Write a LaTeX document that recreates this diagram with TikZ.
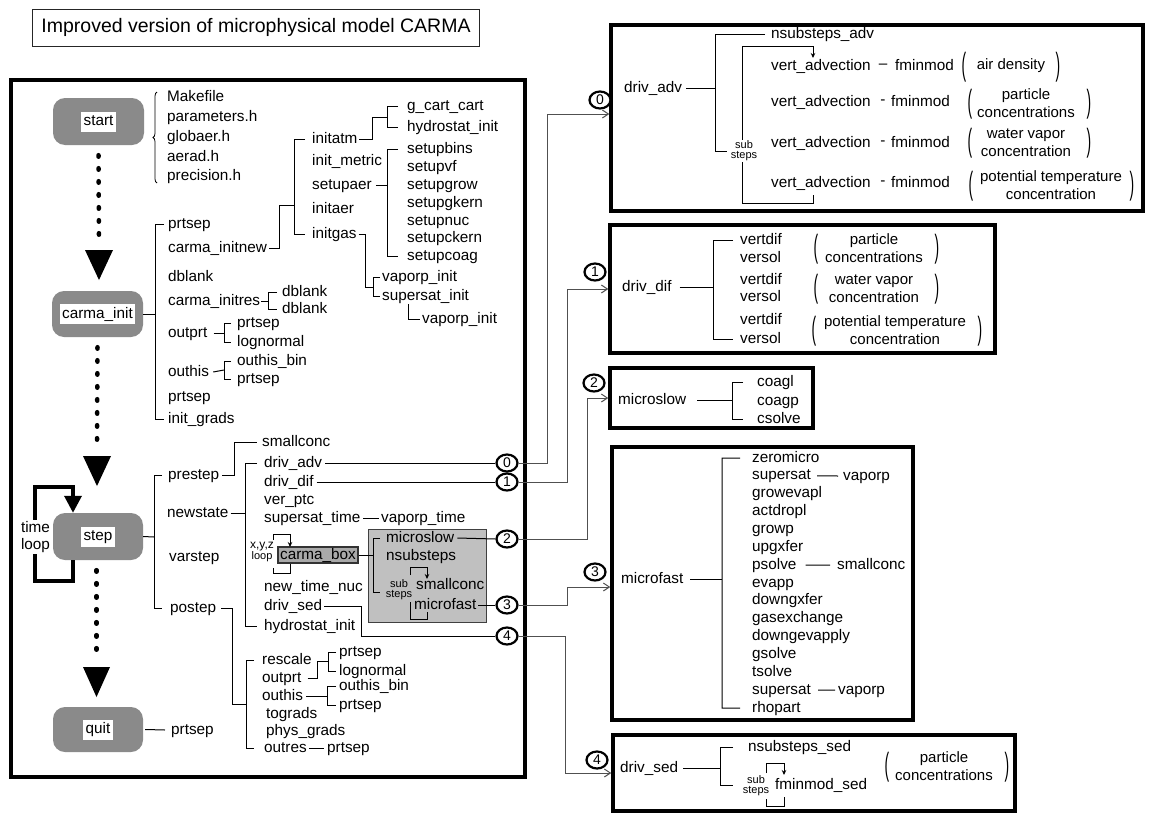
\documentclass[tikz,border=0pt]{standalone}
\usepackage{graphicx}
\usepackage{fontspec}
\setmainfont{Liberation Sans}
\usetikzlibrary{arrows.meta,shapes.geometric,decorations.pathreplacing}
\definecolor{boxgray}{HTML}{8A8A8A}
\definecolor{subgray}{HTML}{C0C0C0}
\definecolor{cboxgray}{HTML}{A9A9A9}
\definecolor{conngray}{HTML}{505050}
\newcommand\lblfont{\fontsize{15.3}{17}\selectfont}
\newcommand\grpfont{\fontsize{15}{18}\selectfont}
\newcommand\smlfont{\fontsize{11}{10}\selectfont}
\newcommand\myLP{\scalebox{0.9}[2.1]{(}}
\newcommand\myRP{\scalebox{0.9}[2.1]{)}}
\newcommand\mylbl[4]{\node[lbl] (#1) at (#2,#3) {#4};}
\tikzset{
 lbl/.style={inner sep=0pt, anchor=west, text height=11pt, text depth=3pt, font=\lblfont},
 grp/.style={inner sep=0pt, align=center, font=\grpfont},
 parn/.style={inner sep=0pt, font=\lblfont},
 sml/.style={inner sep=0.6pt, align=center, font=\smlfont},
 gbox/.style={fill=boxgray, rounded corners=12pt, minimum width=91pt, minimum height=46pt, inner sep=0pt},
 wlbl/.style={fill=white, inner xsep=2.5pt, inner ysep=3pt, text height=11pt, text depth=3pt, font=\lblfont},
 tln/.style={line width=1pt, black},
 sarr/.style={tln, -{Stealth[length=5pt,width=4.5pt]}},
 conn/.style={line width=1pt, draw=conngray, -{Straight Barb[length=6pt,width=8pt]}},
 numc/.style={ellipse, draw=black, line width=2.2pt, fill=white, minimum width=21pt, minimum height=17pt, inner sep=0pt, font=\fontsize{14}{14}\selectfont},
 panel/.style={draw=black, line width=3.5pt, inner sep=0pt},
 dotline/.style={line width=4.5pt, line cap=round, dash pattern=on 1.5pt off 11.5pt},
 cboxst/.style={draw=black!80, line width=1.5pt, fill=cboxgray, inner xsep=2pt, inner ysep=1pt, text height=11pt, text depth=3pt, font=\lblfont},
}
\begin{document}
\begin{tikzpicture}[x=1pt,y=-1pt]
\useasboundingbox (0,0) rectangle (1152,814);
\fill[white] (0,0) rectangle (1152,814);

% ---------- title ----------
\node[draw=black!85, line width=0.9pt, inner xsep=9pt, minimum height=37pt, anchor=west, font=\fontsize{19.5}{22}\selectfont] (title) at (32,27.5) {Improved version of microphysical model CARMA};

% ---------- panels ----------
\node[panel, minimum width=514pt, minimum height=697pt] (mainp) at (268,428.5) {};
\node[panel, minimum width=532pt, minimum height=186pt] (boxA) at (877,118) {};
\node[panel, minimum width=385pt, minimum height=128pt] (boxB) at (802.5,289) {};
\node[panel, minimum width=203pt, minimum height=60pt] (boxC) at (711.5,398) {};
\node[panel, minimum width=301pt, minimum height=273pt] (boxD) at (762.5,583.5) {};
\node[panel, minimum width=402pt, minimum height=76pt] (boxE) at (814,773) {};

% ---------- main flow boxes ----------
\node[gbox, minimum height=47pt] (start) at (98.5,121.5) {};
\node[wlbl] (startL) at (start) {start};
\node[gbox] (cinit) at (97.5,314) {};
\node[wlbl] (cinitL) at (cinit) {carma\_init};
\node[gbox, minimum width=90pt, minimum height=47pt] (step) at (98,536.5) {};
\node[wlbl] (stepL) at (step) {step};
\node[gbox, minimum width=90pt, minimum height=45pt] (quit) at (98,729.5) {};
\node[wlbl] (quitL) at (quit) {quit};

% dotted arrows
\draw[dotline] (start.south) ++(0,10) -- (99,244);
\fill (85,250) -- (113,250) -- (99,280) -- cycle;
\draw[dotline] (cinit.south) ++(0,10) -- (97,450);
\fill (83,456) -- (111,456) -- (97,486) -- cycle;
\draw[dotline] (step.south) ++(-1.5,10) -- (96.5,660);
\fill (83,667) -- (110,667) -- (96.5,697) -- cycle;

% time loop
\draw[line width=3.5pt, -{Triangle[length=17pt,width=17pt]}] ([xshift=-25pt]step.south) -- ++(0,21) -| (35,487) -| ([xshift=-25pt]step.north);
\node[fill=white, inner sep=1pt, align=center, font=\lblfont] (tloop) at (35.5,537) {time\\loop};

% ---------- header files ----------
\mylbl{mk}{167}{97}{Makefile}
\mylbl{parh}{167}{117}{parameters.h}
\mylbl{glob}{167}{137}{globaer.h}
\mylbl{aerh}{167}{157}{aerad.h}
\mylbl{prec}{167}{176}{precision.h}
\draw[line width=0.8pt, decorate, decoration={brace, amplitude=4pt}] (157,183) -- (157,92);

% ---------- carma_init tree ----------
\mylbl{ciA}{168}{224}{prtsep}
\mylbl{ciB}{168}{248}{carma\_initnew}
\mylbl{ciC}{168}{277}{dblank}
\mylbl{ciD}{168}{301}{carma\_initres}
\mylbl{ciE}{168}{333}{outprt}
\mylbl{ciF}{168}{372}{outhis}
\mylbl{ciG}{168}{397}{prtsep}
\mylbl{ciH}{168}{419}{init\_grads}
\draw[tln] (cinit.east) -- (155,314);
\draw[tln] ([xshift=-4pt]ciA.west) -- (155,224) -- (155,419) -- ([xshift=-4pt]ciH.west);

\mylbl{inA}{312}{139}{initatm}
\mylbl{inB}{312}{161}{init\_metric}
\mylbl{inC}{312}{185}{setupaer}
\mylbl{inD}{312}{209}{initaer}
\mylbl{inE}{312}{234}{initgas}
\draw[tln] ([xshift=2pt]ciB.east) -- (279,248) -- (279,205) -- (294,205);
\draw[tln] ([xshift=-7pt]inA.west) -- (294,139) -- (294,234) -- ([xshift=-7pt]inE.west);

\mylbl{gcc}{407}{106}{g\_cart\_cart}
\mylbl{hyd}{407}{127}{hydrostat\_init}
\draw[tln] ([xshift=2pt]inA.east) -- (372,139) -- (372,117) -- (387,117);
\draw[tln] ([xshift=-9pt]gcc.west) -- (387,106) -- (387,127) -- ([xshift=-9pt]hyd.west);

\mylbl{sbA}{407}{149}{setupbins}
\mylbl{sbB}{407}{167}{setupvf}
\mylbl{sbC}{407}{185}{setupgrow}
\mylbl{sbD}{407}{203}{setupgkern}
\mylbl{sbE}{407}{221}{setupnuc}
\mylbl{sbF}{407}{238}{setupckern}
\mylbl{sbG}{407}{256}{setupcoag}
\draw[tln] ([xshift=4pt]inC.east) -- (387,185);
\draw[tln] ([xshift=-9pt]sbA.west) -- (387,149) -- (387,256) -- ([xshift=-9pt]sbG.west);

\mylbl{vpi}{382}{277}{vaporp\_init}
\mylbl{ssi}{382}{296}{supersat\_init}
\mylbl{vpiB}{422}{319}{vaporp\_init}
\draw[tln] ([xshift=2pt]inE.east) -- (365,234) -- (365,287) -- (373,287);
\draw[tln] ([xshift=-2pt]vpi.west) -- (373,277) -- (373,296) -- ([xshift=-2pt]ssi.west);
\draw[tln] (408,304) -- (408,319) -- ([xshift=-2pt]vpiB.west);

\mylbl{dbA}{282}{292}{dblank}
\mylbl{dbB}{282}{309}{dblank}
\draw[tln] ([xshift=1pt]ciD.east) -- (268,301);
\draw[tln] ([xshift=-5pt]dbA.west) -- (268,292) -- (268,309) -- ([xshift=-5pt]dbB.west);

\mylbl{opA}{237}{323}{prtsep}
\mylbl{opB}{237}{342}{lognormal}
\draw[tln] ([xshift=6pt]ciE.east) -- (224,333);
\draw[tln] ([xshift=-6pt]opA.west) -- (224,323) -- (224,342) -- ([xshift=-6pt]opB.west);

\mylbl{ohA}{237}{361}{outhis\_bin}
\mylbl{ohB}{237}{379}{prtsep}
\draw[tln] ([xshift=4pt]ciF.east) -- (224,370);
\draw[tln] ([xshift=-6pt]ohA.west) -- (224,361) -- (224,379) -- ([xshift=-6pt]ohB.west);

% ---------- step tree ----------
\mylbl{psA}{168}{475}{prestep}
\mylbl{psB}{167}{513}{newstate}
\mylbl{psC}{169}{557}{varstep}
\mylbl{psD}{170}{608}{postep}
\draw[tln] (step.east) -- (154,537);
\draw[tln] ([xshift=-6pt]psA.west) -- (154,475) -- (154,608) -- ([xshift=-8pt]psD.west);

\mylbl{scA}{262}{442}{smallconc}
\draw[tln] ([xshift=3pt]psA.east) -- (234,475) -- (234,442) -- ([xshift=-5pt]scA.west);

\mylbl{nsA}{264}{463}{driv\_adv}
\mylbl{nsB}{264}{482}{driv\_dif}
\mylbl{nsC}{264}{500}{ver\_ptc}
\mylbl{nsD}{264}{518}{supersat\_time}
\mylbl{nsF}{264}{587}{new\_time\_nuc}
\mylbl{nsG}{264}{606}{driv\_sed}
\mylbl{nsH}{264}{626}{hydrostat\_init}
\mylbl{vpt}{381}{518}{vaporp\_time}
\draw[tln] ([xshift=2pt]psB.east) -- (245,513);
\draw[tln] ([xshift=-7pt]nsA.west) -- (245,463) -- (245,626) -- ([xshift=-7pt]nsH.west);
\draw[tln] ([xshift=3pt]nsD.east) -- ([xshift=-2pt]vpt.west);

% carma_box and sub box
\node[sml] (xyz) at (262,552) {\fontsize{12}{13}\selectfont x,y,z\\loop};
\node[cboxst] (cbox) at (318,555) {carma\_box};
\draw[tln] (273,540) -- (273,534) -- (290,534);
\draw[sarr] (290,534) -- (290,547);
\draw[tln] (290,564) -- (290,573) -- (273,573) -- (273,568);

\node[draw=black!75, line width=1pt, fill=subgray, minimum width=118pt, minimum height=93pt, inner sep=0pt] (subbox) at (427,575.5) {};
\draw[tln] (cbox.east) -- (373,555);
\mylbl{msl}{386}{538}{microslow}
\mylbl{nss}{386}{556}{nsubsteps}
\node[sml] (subA) at (399,590) {sub\\steps};
\mylbl{scB}{416}{585}{smallconc}
\mylbl{mfs}{414}{605}{microfast}
\draw[tln] ([xshift=-6pt]msl.west) -- (373,538) -- (373,592) -- (380,592);
\draw[tln] (410,575) -- (410,567) -- (427,567);
\draw[sarr] (427,567) -- (427,579);
\draw[tln] (427,612) -- (427,619) -- (410,619) -- (410,602);

% circles on the left panel
\node[numc] (cA) at (507,463) {0};
\node[numc] (cB) at (507,482) {1};
\node[numc] (cC) at (507,539) {2};
\node[numc] (cD) at (507,605) {3};
\node[numc] (cE) at (507,636) {4};
\draw[tln] ([xshift=3pt]nsA.east) -- (cA.west);
\draw[tln] ([xshift=3pt]nsB.east) -- (cB.west);
\draw[tln] ([xshift=3pt]msl.east) -- (cC.west);
\draw[tln] ([xshift=2pt]mfs.east) -- (cD.west);
\draw[tln] ([xshift=2pt]nsG.east) -- (361,606) -- (361,636) -- (cE.west);

% postep tree
\mylbl{pA}{262}{660}{rescale}
\mylbl{pB}{262}{678}{outprt}
\mylbl{pC}{262}{696}{outhis}
\mylbl{pD}{266}{714}{tograds}
\mylbl{pE}{266}{731}{phys\_grads}
\mylbl{pF}{264}{748}{outres}
\draw[tln] ([xshift=5pt]psD.east) -- (232,608) -- (232,704) -- (246,704);
\draw[tln] ([xshift=-8pt]pA.west) -- (246,660) -- (246,748) -- ([xshift=-10pt]pF.west);

\mylbl{prA}{339}{652}{prtsep}
\mylbl{prB}{339}{671}{lognormal}
\draw[tln] ([xshift=6pt]pB.east) -- (317,678) -- (317,661) -- (328,661);
\draw[tln] ([xshift=-3pt]prA.west) -- (328,652) -- (328,671) -- ([xshift=-3pt]prB.west);

\mylbl{phA}{339}{686}{outhis\_bin}
\mylbl{phB}{339}{705}{prtsep}
\draw[tln] ([xshift=3pt]pC.east) -- (327,696);
\draw[tln] ([xshift=-3pt]phA.west) -- (327,686) -- (327,705) -- ([xshift=-3pt]phB.west);

\mylbl{poA}{327}{748}{prtsep}
\draw[tln] ([xshift=2pt]pF.east) -- ([xshift=-3pt]poA.west);

\mylbl{qA}{171}{730}{prtsep}
\draw[tln] ([xshift=2pt]quit.east) -- ([xshift=-6pt]qA.west);

% ---------- connectors to the right ----------
\node[numc] (lA) at (600,100) {0};
\node[numc] (lB) at (595,272) {1};
\node[numc] (lC) at (594,383) {2};
\node[numc] (lD) at (595,572) {3};
\node[numc] (lE) at (597,760) {4};
\draw[conn] (cA.east) -- (547,463) |- ([yshift=4pt]boxA.west);
\draw[conn] (cB.east) -- (567,482) |- (boxB.west);
\draw[conn] (cC.east) -- (587,539) |- (boxC.west);
\draw[conn] (cD.east) -- (567,605) |- ([yshift=-3.5pt]boxD.west);
\draw[conn] (cE.east) -- (565,636) |- (boxE.west);

% ---------- box A : driv_adv ----------
\mylbl{daA}{624}{88}{driv\_adv}
\mylbl{nsa}{771}{34}{nsubsteps\_adv}
\draw[tln] ([xshift=4pt]daA.east) -- (715,88);
\draw[tln] ([xshift=-6pt]nsa.west) -- (715,34) -- (715,151) -- (727,151);
\draw[tln] (742,203) -- (742,46) -- (813,46);
\draw[sarr] (813,46) -- (813,58);
\draw[tln] (742,203) -- (813,203) -- (813,195);
\node[sml, fill=white] (subB) at (744,151) {sub\\steps};

\mylbl{vaA}{771}{66}{vert\_advection}
\mylbl{vaB}{771}{102}{vert\_advection}
\mylbl{vaC}{771}{143}{vert\_advection}
\mylbl{vaD}{771}{183}{vert\_advection}
\node[parn] (dA) at (883,66) {–};
\node[parn] (dB) at (883,102) {-};
\node[parn] (dC) at (883,143) {-};
\node[parn] (dD) at (883,183) {-};
\mylbl{fA}{895}{66}{fminmod}
\mylbl{fB}{891}{102}{fminmod}
\mylbl{fC}{891}{143}{fminmod}
\mylbl{fD}{891}{183}{fminmod}
\node[parn] (lpA) at (964,67) {\myLP};
\node[grp] (gA) at (1011,66) {air density};
\node[parn] (rpA) at (1058,67) {\myRP};
\node[parn] (lpB) at (970,104) {\myLP};
\node[grp] (gB) at (1026,103.5) {particle\\concentrations};
\node[parn] (rpB) at (1089,104) {\myRP};
\node[parn] (lpC) at (970,143) {\myLP};
\node[grp] (gC) at (1026,142.5) {water vapor\\concentration};
\node[parn] (rpC) at (1089,143) {\myRP};
\node[parn] (lpD) at (971,186) {\myLP};
\node[grp] (gD) at (1051,185.5) {potential temperature\\concentration};
\node[parn] (rpD) at (1132,186) {\myRP};

% ---------- box B : driv_dif ----------
\mylbl{ddA}{622}{287}{driv\_dif}
\draw[tln] ([xshift=8pt]ddA.east) -- (713,287);
\mylbl{vdA}{740}{240}{vertdif}
\mylbl{vsA}{740}{258}{versol}
\mylbl{vdB}{740}{280}{vertdif}
\mylbl{vsB}{740}{297}{versol}
\mylbl{vdC}{740}{320}{vertdif}
\mylbl{vsC}{740}{339}{versol}
\draw[tln] ([xshift=-7pt]vdA.west) -- (713,240) -- (713,339) -- ([xshift=-7pt]vsC.west);
\node[parn] (lpE) at (816,249) {\myLP};
\node[grp] (gE) at (874,248.5) {particle\\concentrations};
\node[parn] (rpE) at (937,249) {\myRP};
\node[parn] (lpF) at (816,289) {\myLP};
\node[grp] (gF) at (874,288.5) {water vapor\\concentration};
\node[parn] (rpF) at (937,289) {\myRP};
\node[parn] (lpG) at (814,331) {\myLP};
\node[grp] (gG) at (895,330) {potential temperature\\concentration};
\node[parn] (rpG) at (980,331) {\myRP};

% ---------- box C : microslow ----------
\mylbl{msA}{618}{400}{microslow}
\draw[tln] ([xshift=11pt]msA.east) -- (732,400);
\mylbl{cgA}{757}{382}{coagl}
\mylbl{cgB}{757}{401}{coagp}
\mylbl{cgC}{757}{419}{csolve}
\draw[tln] ([xshift=-14pt]cgA.west) -- (732,382) -- (732,419) -- ([xshift=-14pt]cgC.west);

% ---------- box D : microfast ----------
\mylbl{mfA}{621}{579}{microfast}
\draw[tln] ([xshift=7pt]mfA.east) -- (722,579);
\foreach \i/\nm in {0/zeromicro,1/supersat,2/growevapl,3/actdropl,4/growp,5/upgxfer,6/psolve,7/evapp,8/downgxfer,9/gasexchange,10/downgevapply,11/gsolve,12/tsolve,13/supersat,14/rhopart}
  \node[lbl] (mf\i) at (752,{458+17.86*\i}) {\nm};
\draw[tln] ([xshift=-12pt]mf0.west) -- (722,458) -- (722,708) -- ([xshift=-12pt]mf14.west);
\mylbl{vpA}{843}{476}{vaporp}
\draw[tln] ([xshift=6pt]mf1.east) -- ([xshift=-5pt]vpA.west);
\mylbl{scC}{837}{565}{smallconc}
\draw[tln] ([xshift=9pt]mf6.east) -- ([xshift=-7pt]scC.west);
\mylbl{vpB}{838}{690}{vaporp}
\draw[tln] ([xshift=7pt]mf13.east) -- ([xshift=-3pt]vpB.west);

% ---------- box E : driv_sed ----------
\mylbl{dsA}{620}{768}{driv\_sed}
\draw[tln] ([xshift=5pt]dsA.east) -- (720,768);
\mylbl{nssed}{748}{747}{nsubsteps\_sed}
\mylbl{fms}{775}{785}{fminmod\_sed}
\draw[tln] ([xshift=-15pt]nssed.west) -- (720,747) -- (720,785) -- (733,785);
\node[sml] (subC) at (756,786) {sub\\steps};
\draw[tln] (766,773) -- (766,763) -- (784,763);
\draw[sarr] (784,763) -- (784,775);
\draw[tln] (766,799) -- (766,806) -- (784,806) -- (784,797);
\node[parn] (lpH) at (887,767) {\myLP};
\node[grp] (gH) at (944,766) {particle\\concentrations};
\node[parn] (rpH) at (1007,767) {\myRP};
\end{tikzpicture}
\end{document}
